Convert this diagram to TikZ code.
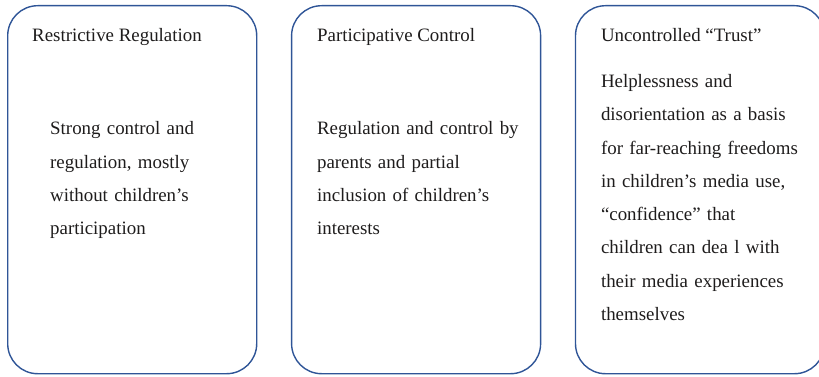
\documentclass[tikz,border=0pt]{standalone}
\usepackage{fontspec}
\setmainfont{Liberation Serif}
\usetikzlibrary{positioning}
\definecolor{boxblue}{RGB}{47,85,151}
\definecolor{textgray}{RGB}{30,28,28}
\tikzstyle{panel} = [rectangle, draw=boxblue, line width=1.4pt, rounded corners=30pt, minimum width=249pt, minimum height=368pt, anchor=north west]
\tikzstyle{head} = [anchor=base west, inner sep=0pt, text=textgray, font=\fontsize{18.9}{33.3}\selectfont]
\tikzstyle{body} = [head, text width=230pt, align=left]

\begin{document}
\begin{tikzpicture}[x=1pt, y=1pt]
  \useasboundingbox (0,0) rectangle (819,-377);

  \node [panel] (restrictive) at (7,-5) {};
  \node [panel, right=33.5pt of restrictive] (participative) {};
  \node [panel, right=33.5pt of participative] (uncontrolled) {};

  \node [head] (restrictive_title) at ([xshift=25pt, yshift=-37pt]restrictive.north west) {Restrictive Regulation};
  \node [body] (restrictive_text) at ([xshift=43pt, yshift=-130pt]restrictive.north west)
    {Strong control and\\ regulation, mostly\\ without children’s\\ participation};

  \node [head] (participative_title) at ([xshift=26pt, yshift=-37pt]participative.north west) {Participative Control};
  \node [body] (participative_text) at ([xshift=26pt, yshift=-130pt]participative.north west)
    {Regulation and control by\\ parents and partial\\ inclusion of children’s\\ interests};

  \node [head] (uncontrolled_title) at ([xshift=26pt, yshift=-37pt]uncontrolled.north west) {Uncontrolled “Trust”};
  \node [body] (uncontrolled_text) at ([xshift=26pt, yshift=-82.5pt]uncontrolled.north west)
    {Helplessness and\\
     \makebox[199pt][s]{disorientation as a basis}\\
     \makebox[199pt][s]{for far-reaching freedoms}\\
     \makebox[199pt][s]{in children’s media use,}\\
     “confidence” that\\ children can dea l with\\ their media experiences\\ themselves};
\end{tikzpicture}
\end{document}
